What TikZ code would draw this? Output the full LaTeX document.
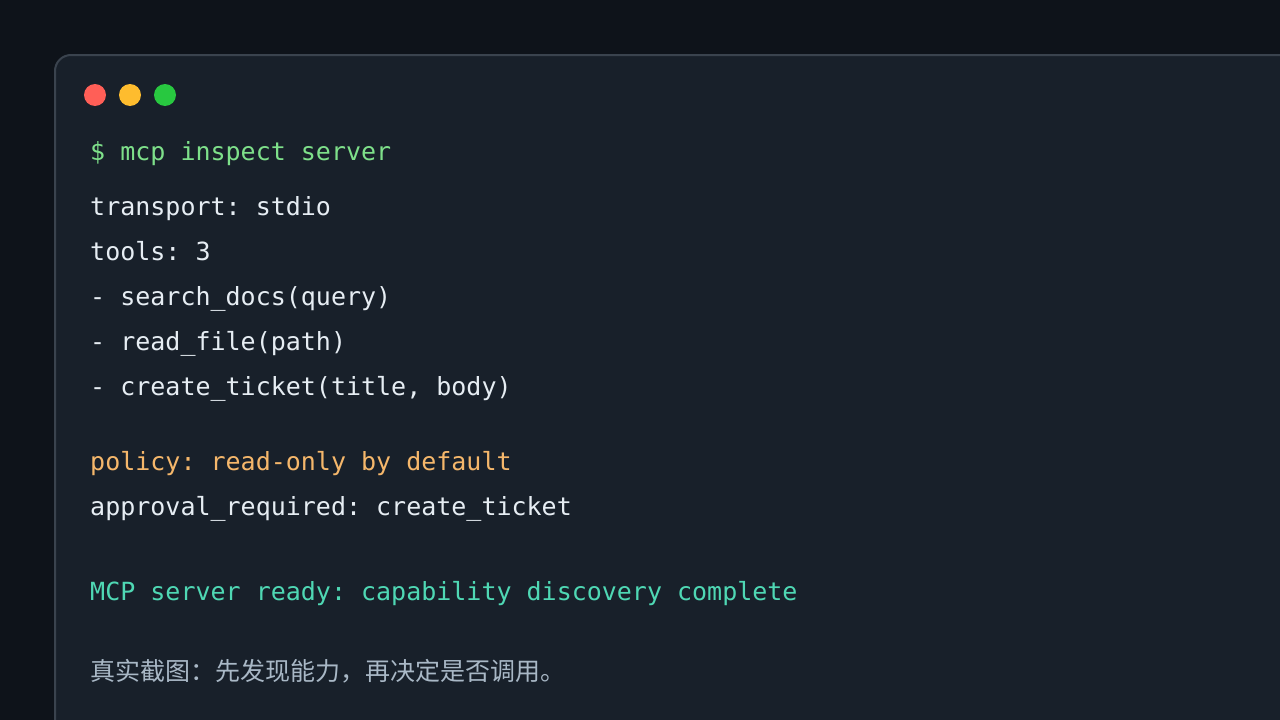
\documentclass[tikz,border=0pt]{standalone}
\usepackage{fontspec}
\setmonofont{DejaVu Sans Mono}
\newfontfamily\cjk{Noto Sans CJK SC}
\definecolor{bg}{HTML}{0E131A}
\definecolor{win}{HTML}{18202A}
\definecolor{winborder}{HTML}{3A434E}
\definecolor{prompt}{HTML}{7EE08A}
\definecolor{plain}{HTML}{E6EDF3}
\definecolor{warn}{HTML}{F5B76B}
\definecolor{ok}{HTML}{4FD8B4}
\definecolor{note}{HTML}{A9B8C6}
\begin{document}
\begin{tikzpicture}[x=1pt,y=-1pt,
  line/.style={anchor=base west,inner sep=0pt,font=\ttfamily\fontsize{25}{30}\selectfont},
  dot/.style={circle,minimum size=22pt,inner sep=0pt}]
\useasboundingbox (0,0) rectangle (1280,720);
\fill[bg] (0,0) rectangle (1280,720);
\draw[winborder,fill=win,line width=2pt,rounded corners=16pt] (55,55) rectangle (1320,760);
\node[dot,fill={rgb,255:red,255;green,95;blue,87}] (r) at (95,95) {};
\node[dot,fill={rgb,255:red,254;green,188;blue,46}] (y) at (130,95) {};
\node[dot,fill={rgb,255:red,40;green,200;blue,64}] (g) at (165,95) {};
\node[line,text=prompt] (l1) at (90,160) {\$ mcp inspect server};
\node[line,text=plain] (l2) at (90,215) {transport: stdio};
\node[line,text=plain] (l3) at (90,260) {tools: 3};
\node[line,text=plain] (l4) at (90,305) {- search\_docs(query)};
\node[line,text=plain] (l5) at (90,350) {- read\_file(path)};
\node[line,text=plain] (l6) at (90,395) {- create\_ticket(title, body)};
\node[line,text=warn] (l7) at (90,470) {policy: read-only by default};
\node[line,text=plain] (l8) at (90,515) {approval\_required: create\_ticket};
\node[line,text=ok] (l9) at (90,600) {MCP server ready: capability discovery complete};
\node[anchor=base west,inner sep=0pt,text=note,font=\cjk\fontsize{25}{30}\selectfont] (l10) at (90,680) {真实截图：先发现能力，再决定是否调用。};
\end{tikzpicture}
\end{document}
